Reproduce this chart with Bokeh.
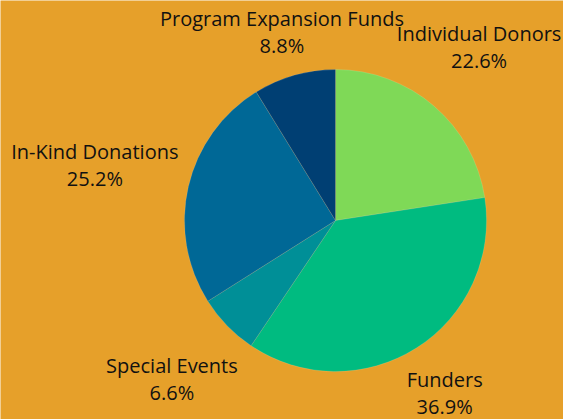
import math
from bokeh.plotting import figure
from bokeh.models import ColumnDataSource
from bokeh.embed import file_html
from bokeh.resources import INLINE
from bokeh.core.properties import value

# ---- data ----
categories = ["Individual Donors", "Funders", "Special Events", "In-Kind Donations", "Program Expansion Funds"]
percents = [22.6, 36.9, 6.6, 25.2, 8.8]
pct_labels = ["22.6%", "36.9%", "6.6%", "25.2%", "8.8%"]
colors = ["#7fd957", "#00bb80", "#008f97", "#006896", "#003f73"]

# ---- layout / style ----
W, H = 563, 419
CX, CY = 335, 199
R = 151
GAP = 11
FS = 20
LINE = 27
FONT = "Open Sans"
BG = "#e6a02a"
EDGE = 4

NARROW = set("iljtfrI.,:;'!|")
WIDE = set("mwMW%")


def text_width(s):
    w = 0.0
    for ch in s:
        if ch == " ":
            w += 0.26
        elif ch in NARROW:
            w += 0.31
        elif ch in WIDE:
            w += 0.88
        elif ch == "-":
            w += 0.32
        elif ch.isdigit():
            w += 0.572
        elif ch.isupper():
            w += 0.63
        else:
            w += 0.56
    return w * FS


total = sum(percents)
starts, ends, lx, ly = [], [], [], []
cum = 0.0
for cat, pct, pl in zip(categories, percents, pct_labels):
    a0 = math.pi / 2 - 2 * math.pi * cum / total
    cum += pct
    a1 = math.pi / 2 - 2 * math.pi * cum / total
    starts.append(a0)
    ends.append(a1)
    mid = (a0 + a1) / 2
    ux, uy = math.cos(mid), math.sin(mid)
    hw = max(text_width(cat), text_width(pl)) / 2
    hh = LINE
    lo, hi = 0.0, 1000.0
    for _ in range(60):
        d = (lo + hi) / 2
        nx = max(0.0, d * abs(ux) - hw)
        ny = max(0.0, d * abs(uy) - hh)
        if math.hypot(nx, ny) < R + GAP:
            lo = d
        else:
            hi = d
    x = CX + lo * ux
    x = min(max(x, hw + EDGE), W - hw - EDGE)
    lx.append(x)
    ly.append(CY + lo * uy)

src = ColumnDataSource(dict(cat=categories, pct=pct_labels, start=starts, end=ends,
                            color=colors, lx=lx, ly=ly))

p = figure(width=W, height=H, x_range=(0, W), y_range=(0, H),
           toolbar_location=None, output_backend="svg", min_border=0,
           background_fill_color=BG, border_fill_color=BG, outline_line_color=None)
p.axis.visible = False
p.grid.visible = False

p.wedge(x=CX, y=CY, radius=R, start_angle="start", end_angle="end", direction="clock",
        fill_color="color", line_color="#ffffff", line_alpha=0.25, line_width=0.5, source=src)

p.text(x="lx", y="ly", text="cat", source=src, text_align="center", text_baseline="middle",
       y_offset=-LINE / 2, text_font=value(FONT), text_font_size=f"{FS}px", text_color="#111111")
p.text(x="lx", y="ly", text="pct", source=src, text_align="center", text_baseline="middle",
       y_offset=LINE / 2, text_font=value(FONT), text_font_size=f"{FS}px", text_color="#111111")

open("out.html", "w").write(file_html(p, INLINE))
